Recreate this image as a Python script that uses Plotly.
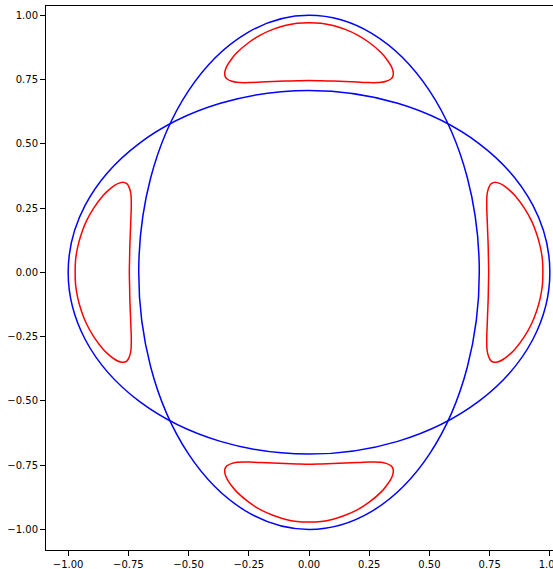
import plotly.graph_objects as go

# Ellipse semi-axes
ell_h = {"a": 1.0, "b": 0.707}   # wide ellipse
ell_v = {"a": 0.707, "b": 1.0}   # tall ellipse

# Red closed curves
top_x = [-0.35, -0.349, -0.345, -0.34, -0.32, -0.30, -0.25, -0.20, -0.15, -0.10, -0.05, 0.00,
         0.05, 0.10, 0.15, 0.20, 0.25, 0.30, 0.32, 0.34, 0.345, 0.349, 0.35,
         0.349, 0.345, 0.34, 0.32, 0.30, 0.25, 0.20, 0.15, 0.10, 0.05, 0.00,
         -0.05, -0.10, -0.15, -0.20, -0.25, -0.30, -0.32, -0.34, -0.345, -0.349, -0.35]
top_y = [0.773, 0.782, 0.794, 0.804, 0.832, 0.854, 0.894, 0.924, 0.945, 0.960, 0.969, 0.971,
         0.969, 0.960, 0.945, 0.924, 0.894, 0.854, 0.832, 0.804, 0.794, 0.782, 0.773,
         0.765, 0.757, 0.752, 0.743, 0.739, 0.738, 0.740, 0.742, 0.744, 0.745, 0.746,
         0.745, 0.744, 0.742, 0.740, 0.738, 0.739, 0.743, 0.752, 0.757, 0.765, 0.773]

bottom_x = [-0.35, -0.349, -0.345, -0.34, -0.32, -0.30, -0.25, -0.20, -0.15, -0.10, -0.05, 0.00,
            0.05, 0.10, 0.15, 0.20, 0.25, 0.30, 0.32, 0.34, 0.345, 0.349, 0.35,
            0.349, 0.345, 0.34, 0.32, 0.30, 0.25, 0.20, 0.15, 0.10, 0.05, 0.00,
            -0.05, -0.10, -0.15, -0.20, -0.25, -0.30, -0.32, -0.34, -0.345, -0.349, -0.35]
bottom_y = [-0.773, -0.782, -0.794, -0.804, -0.832, -0.854, -0.894, -0.924, -0.945, -0.960, -0.969, -0.971,
            -0.969, -0.960, -0.945, -0.924, -0.894, -0.854, -0.832, -0.804, -0.794, -0.782, -0.773,
            -0.765, -0.757, -0.752, -0.743, -0.739, -0.738, -0.740, -0.742, -0.744, -0.745, -0.746,
            -0.745, -0.744, -0.742, -0.740, -0.738, -0.739, -0.743, -0.752, -0.757, -0.765, -0.773]

right_x = [0.773, 0.782, 0.794, 0.804, 0.832, 0.854, 0.894, 0.924, 0.945, 0.960, 0.969, 0.971,
           0.969, 0.960, 0.945, 0.924, 0.894, 0.854, 0.832, 0.804, 0.794, 0.782, 0.773,
           0.765, 0.757, 0.752, 0.743, 0.739, 0.738, 0.740, 0.742, 0.744, 0.745, 0.746,
           0.745, 0.744, 0.742, 0.740, 0.738, 0.739, 0.743, 0.752, 0.757, 0.765, 0.773]
right_y = [-0.35, -0.349, -0.345, -0.34, -0.32, -0.30, -0.25, -0.20, -0.15, -0.10, -0.05, 0.00,
           0.05, 0.10, 0.15, 0.20, 0.25, 0.30, 0.32, 0.34, 0.345, 0.349, 0.35,
           0.349, 0.345, 0.34, 0.32, 0.30, 0.25, 0.20, 0.15, 0.10, 0.05, 0.00,
           -0.05, -0.10, -0.15, -0.20, -0.25, -0.30, -0.32, -0.34, -0.345, -0.349, -0.35]

left_x = [-0.773, -0.782, -0.794, -0.804, -0.832, -0.854, -0.894, -0.924, -0.945, -0.960, -0.969, -0.971,
          -0.969, -0.960, -0.945, -0.924, -0.894, -0.854, -0.832, -0.804, -0.794, -0.782, -0.773,
          -0.765, -0.757, -0.752, -0.743, -0.739, -0.738, -0.740, -0.742, -0.744, -0.745, -0.746,
          -0.745, -0.744, -0.742, -0.740, -0.738, -0.739, -0.743, -0.752, -0.757, -0.765, -0.773]
left_y = [-0.35, -0.349, -0.345, -0.34, -0.32, -0.30, -0.25, -0.20, -0.15, -0.10, -0.05, 0.00,
          0.05, 0.10, 0.15, 0.20, 0.25, 0.30, 0.32, 0.34, 0.345, 0.349, 0.35,
          0.349, 0.345, 0.34, 0.32, 0.30, 0.25, 0.20, 0.15, 0.10, 0.05, 0.00,
          -0.05, -0.10, -0.15, -0.20, -0.25, -0.30, -0.32, -0.34, -0.345, -0.349, -0.35]

tick_vals = [-1.0, -0.75, -0.5, -0.25, 0.0, 0.25, 0.5, 0.75, 1.0]

fig = go.Figure()

for ex, ey in [(top_x, top_y), (bottom_x, bottom_y), (right_x, right_y), (left_x, left_y)]:
    fig.add_trace(go.Scatter(x=ex, y=ey, mode="lines",
                             line=dict(color="red", width=1.5, shape="spline", smoothing=0.6),
                             hoverinfo="skip"))

for e in (ell_h, ell_v):
    fig.add_shape(type="circle", xref="x", yref="y",
                  x0=-e["a"], x1=e["a"], y0=-e["b"], y1=e["b"],
                  line=dict(color="blue", width=1.5))

axis_common = dict(
    tickvals=tick_vals, tickformat=".2f", ticks="outside", ticklen=5, tickwidth=1,
    tickcolor="black", showgrid=False, zeroline=False, showline=True,
    linecolor="black", linewidth=1, automargin=False, ticklabeloverflow="allow",
    tickfont=dict(family="DejaVu Sans", size=10, color="black"),
)

fig.update_layout(
    width=553, height=569,
    margin=dict(l=46, r=0, t=6, b=19, autoexpand=False),
    paper_bgcolor="white", plot_bgcolor="white",
    showlegend=False,
    xaxis=dict(range=[-1.092, 1.013], mirror=True, **axis_common),
    yaxis=dict(range=[-1.080, 1.036], **axis_common),
)

fig.write_html("out.html", config={"displayModeBar": False},
               post_script="document.body.style.margin='0px';document.body.style.overflow='hidden';")
